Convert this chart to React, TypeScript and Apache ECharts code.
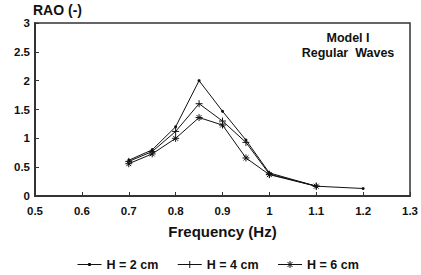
import React, { useEffect, useRef } from "react";
import * as echarts from "echarts";

const freq = [0.7, 0.75, 0.8, 0.85, 0.9, 0.95, 1.0, 1.1, 1.2];
const h2 = [0.62, 0.8, 1.2, 2.0, 1.47, 0.97, 0.4, 0.17, 0.13];
const h4 = [0.6, 0.77, 1.12, 1.6, 1.3, 0.93, 0.38, 0.17];
const h6 = [0.56, 0.73, 1.0, 1.36, 1.23, 0.66, 0.37, 0.17];
const seriesNames = ["H = 2 cm", "H = 4 cm", "H = 6 cm"];

const FONT = "Liberation Sans";

const plusPath = "path://M5,0L5,10M0,5L10,5";
const starPath = "path://M5,0L5,10M0,5L10,5M1.5,1.5L8.5,8.5M8.5,1.5L1.5,8.5";

const legendIcons = [
  "path://M0,4L24,4M11,3L13,3L13,5L11,5Z",
  "path://M0,4L24,4M12,0.5L12,7.5",
  "path://M0,4L24,4M12,0.5L12,7.5M8.5,4L15.5,4M9.5,1.5L14.5,6.5M14.5,1.5L9.5,6.5",
];

export default function App() {
  const ref = useRef<HTMLDivElement>(null);
  useEffect(() => {
    const chart = echarts.init(ref.current!, undefined, { renderer: "svg" });
    const mk = (vals: number[]) => vals.map((v, i) => [freq[i], v]);
    const lineStyle = { color: "#111", width: 1 };
    chart.setOption({
      animation: false,
      backgroundColor: "#fff",
      textStyle: { fontFamily: FONT },
      grid: { left: 35, right: 7, top: 23, bottom: 79, show: true, borderColor: "#333", borderWidth: 1.5 },
      xAxis: {
        type: "value",
        min: 0.5,
        max: 1.3,
        interval: 0.1,
        name: "Frequency (Hz)",
        nameLocation: "middle",
        nameGap: 28,
        nameTextStyle: { fontSize: 15, fontWeight: "bold", color: "#111", fontFamily: FONT },
        axisLine: { lineStyle: { color: "#333", width: 2 } },
        axisTick: { inside: true, length: 4, lineStyle: { color: "#333" } },
        axisLabel: {
          margin: 9,
          fontSize: 11.5,
          fontWeight: "bold",
          color: "#111",
          fontFamily: FONT,
          formatter: (v: number) => String(Math.round(v * 10) / 10),
        },
        splitLine: { show: false },
      },
      yAxis: {
        type: "value",
        min: 0,
        max: 3,
        interval: 0.5,
        name: "RAO (-)",
        nameLocation: "end",
        nameGap: 5,
        nameTextStyle: { fontSize: 14, fontWeight: "bold", color: "#111", align: "left", padding: [0, 0, 0, -2], fontFamily: FONT },
        axisLine: { show: true, lineStyle: { color: "#333", width: 2 } },
        axisTick: { show: true, inside: true, length: 4, lineStyle: { color: "#333" } },
        axisLabel: { margin: 5, fontSize: 11.5, fontWeight: "bold", color: "#111", fontFamily: FONT },
        splitLine: { show: false },
      },
      legend: {
        top: 253,
        left: 72,
        itemWidth: 24,
        itemHeight: 8,
        itemGap: 19,
        textStyle: { fontSize: 12.5, fontWeight: "bold", color: "#111", fontFamily: FONT },
        data: seriesNames.map((n, i) => ({
          name: n,
          icon: legendIcons[i],
          itemStyle: { color: "#111", borderColor: "#111", borderWidth: 1 },
        })),
      },
      graphic: [
        {
          type: "text",
          x: 348,
          y: 30,
          style: {
            text: "Model I\nRegular  Waves",
            fontSize: 12.5,
            fontWeight: "bold",
            fill: "#111",
            align: "center",
            lineHeight: 15,
            fontFamily: FONT,
          },
        },
      ],
      series: [
        {
          name: seriesNames[0],
          type: "line",
          data: mk(h2),
          symbol: "circle",
          symbolSize: 3,
          itemStyle: { color: "#111" },
          lineStyle,
        },
        {
          name: seriesNames[1],
          type: "line",
          data: mk(h4),
          symbol: plusPath,
          symbolSize: 7,
          itemStyle: { color: "none", borderColor: "#111", borderWidth: 1 },
          lineStyle,
        },
        {
          name: seriesNames[2],
          type: "line",
          data: mk(h6),
          symbol: starPath,
          symbolSize: 7,
          itemStyle: { color: "none", borderColor: "#111", borderWidth: 1 },
          lineStyle,
        },
      ],
    });
    return () => chart.dispose();
  }, []);
  return <div ref={ref} style={{ width: 421, height: 275, position: "absolute", left: 0, top: 0 }} />;
}
